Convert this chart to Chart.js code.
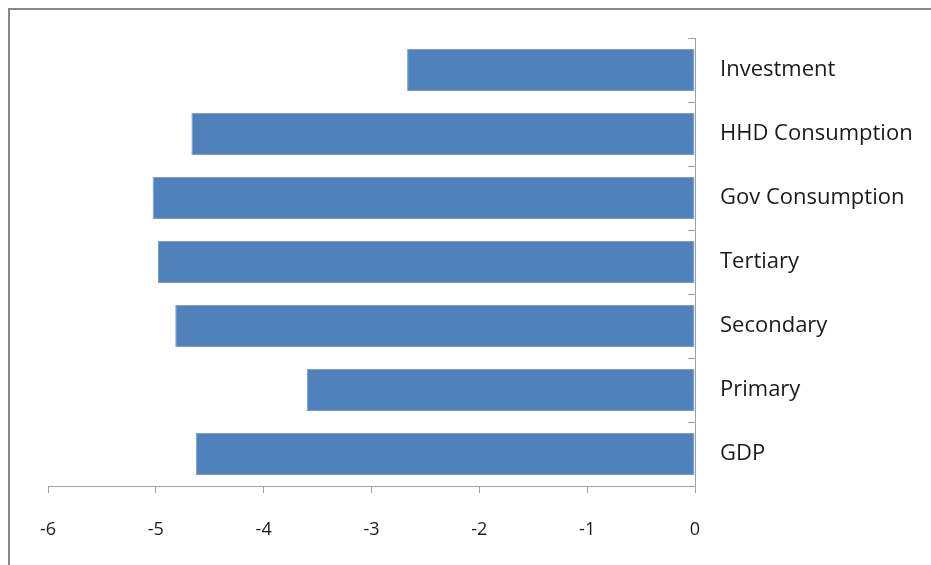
<!DOCTYPE html>
<html>
<head>
<meta charset="utf-8">
<script src="https://cdn.jsdelivr.net/npm/chart.js@4/dist/chart.umd.min.js"></script>
<style>
  html, body { margin: 0; padding: 0; background: #fff; overflow: hidden; }
  #wrap { position: relative; width: 931px; height: 565px; }
  #frame { position: absolute; left: 8px; top: 8px; width: 940px; height: 580px;
           border-top: 2px solid #878787; border-left: 2px solid #878787; pointer-events: none; }
  canvas { position: absolute; left: 0; top: 0; }
</style>
</head>
<body>
<div id="wrap">
  <canvas id="chart" width="931" height="565"></canvas>
  <div id="frame"></div>
</div>
<script>
// categories top to bottom
const categories = ['Investment', 'HHD Consumption', 'Gov Consumption', 'Tertiary', 'Secondary', 'Primary', 'GDP'];
const values = [-2.67, -4.67, -5.03, -4.98, -4.82, -3.60, -4.63];
const xTicks = [-6, -5, -4, -3, -2, -1, 0];

const axisGrey = '#a0a0a0';
const font = 'Open Sans';

new Chart(document.getElementById('chart'), {
  type: 'bar',
  data: {
    labels: categories,
    datasets: [{
      data: values,
      backgroundColor: '#4f81bd',
      borderColor: '#7b9fcf',
      borderWidth: 1,
      borderSkipped: false,
      categoryPercentage: 0.66,
      barPercentage: 1
    }]
  },
  options: {
    indexAxis: 'y',
    responsive: false,
    animation: false,
    layout: { padding: { top: 38, left: 48, right: 0, bottom: 0 } },
    plugins: { legend: { display: false }, tooltip: { enabled: false } },
    scales: {
      x: {
        min: xTicks[0], max: xTicks[xTicks.length - 1],
        afterBuildTicks: (s) => { s.ticks = xTicks.map((v) => ({ value: v })); },
        grid: { drawOnChartArea: false, drawTicks: true, tickLength: 7, color: axisGrey },
        border: { color: axisGrey, width: 1 },
        ticks: { color: '#1a1a1a', padding: 26, font: { family: font, size: 18 } },
        afterFit: (s) => { s.height = 79; }
      },
      y: {
        position: 'right',
        grid: { drawOnChartArea: false, drawTicks: true, tickLength: -7, color: axisGrey, offset: true },
        border: { color: axisGrey, width: 1 },
        ticks: { color: '#1a1a1a', padding: 32, font: { family: font, size: 22 } },
        afterFit: (s) => { s.width = 236; s.paddingTop = 0; s.paddingBottom = 0; }
      }
    }
  }
});
</script>
</body>
</html>
